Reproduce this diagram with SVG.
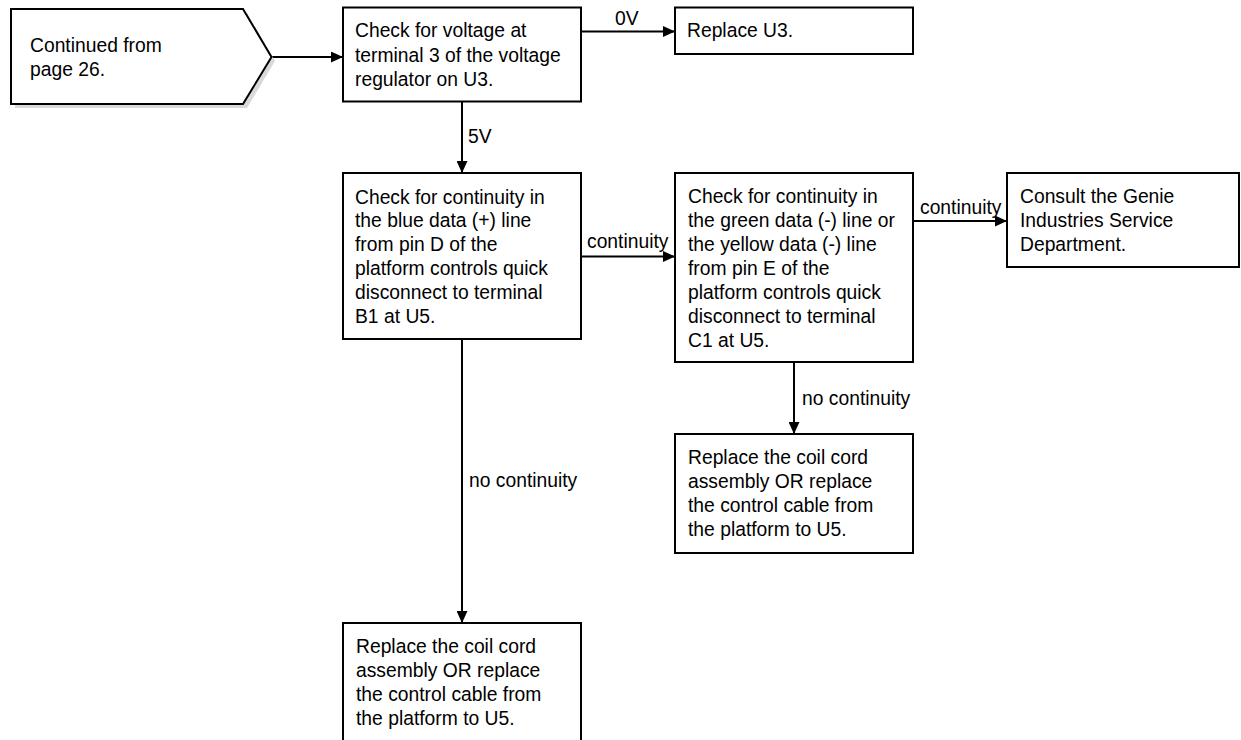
<svg xmlns="http://www.w3.org/2000/svg" width="1241" height="740" viewBox="0 0 1241 740">
<style>
.box{fill:#fff;stroke:#000;stroke-width:2}
.shadow{fill:#d9d9d9;stroke:none}
.t{font-family:"Liberation Sans",Arial,sans-serif;font-size:19.3px;fill:#000}
.c{stroke:#000;stroke-width:2;fill:none;marker-end:url(#arrow)}
</style>
<defs>
<marker id="arrow" markerUnits="userSpaceOnUse" markerWidth="12" markerHeight="11" refX="12" refY="5.5" orient="auto">
<path d="M0,0 L12,5.5 L0,11 z" fill="#000"/>
</marker>
</defs>
<rect width="1241" height="740" fill="#fff"/>
<g id="connectors">
<line class="c" x1="272" y1="57" x2="343" y2="57"/>
<line class="c" x1="581" y1="31.5" x2="675" y2="31.5"/>
<text class="t" x="615" y="25">0V</text>
<line class="c" x1="462" y1="101.5" x2="462" y2="173"/>
<text class="t" x="468" y="143">5V</text>
<line class="c" x1="581" y1="256.5" x2="675" y2="256.5"/>
<text class="t" x="587" y="248">continuity</text>
<line class="c" x1="913" y1="221" x2="1007" y2="221"/>
<text class="t" x="920" y="214">continuity</text>
<line class="c" x1="794" y1="362" x2="794" y2="434"/>
<text class="t" x="802" y="405">no continuity</text>
<line class="c" x1="462" y1="339" x2="462" y2="623"/>
<text class="t" x="469" y="487">no continuity</text>
</g>
<g id="start">
<polygon class="shadow" points="15,13 247,13 275,61 247,108 15,108"/>
<polygon class="box" points="11,9 243,9 271.5,57 243,104 11,104"/>
<text class="t" x="30" y="52"><tspan x="30">Continued from</tspan><tspan x="30" dy="24">page 26.</tspan></text>
</g>
<g id="check-voltage">
<rect class="box" x="343" y="7.5" width="238" height="94"/>
<text class="t" y="37.3"><tspan x="355">Check for voltage at</tspan><tspan x="355" dy="24.3">terminal 3 of the voltage</tspan><tspan x="355" dy="24.3">regulator on U3.</tspan></text>
</g>
<g id="replace-u3">
<rect class="box" x="675" y="7.5" width="238" height="46.5"/>
<text class="t" x="687" y="37.3">Replace U3.</text>
</g>
<g id="check-blue">
<rect class="box" x="343" y="173" width="238" height="166"/>
<text class="t" y="203.5"><tspan x="355">Check for continuity in</tspan><tspan x="355" dy="23.8">the blue data (+) line</tspan><tspan x="355" dy="23.8">from pin D of the</tspan><tspan x="355" dy="23.8">platform controls quick</tspan><tspan x="355" dy="23.8">disconnect to terminal</tspan><tspan x="355" dy="23.8">B1 at U5.</tspan></text>
</g>
<g id="check-green">
<rect class="box" x="675" y="173" width="238" height="189"/>
<text class="t" y="203.3"><tspan x="688">Check for continuity in</tspan><tspan x="688" dy="23.9">the green data (-) line or</tspan><tspan x="688" dy="23.9">the yellow data (-) line</tspan><tspan x="688" dy="23.9">from pin E of the</tspan><tspan x="688" dy="23.9">platform controls quick</tspan><tspan x="688" dy="23.9">disconnect to terminal</tspan><tspan x="688" dy="23.9">C1 at U5.</tspan></text>
</g>
<g id="consult">
<rect class="box" x="1007" y="173" width="232" height="94"/>
<text class="t" y="203"><tspan x="1020">Consult the Genie</tspan><tspan x="1020" dy="24">Industries Service</tspan><tspan x="1020" dy="24">Department.</tspan></text>
</g>
<g id="replace-cord-right">
<rect class="box" x="675" y="434" width="238" height="119"/>
<text class="t" y="464"><tspan x="688">Replace the coil cord</tspan><tspan x="688" dy="24">assembly OR replace</tspan><tspan x="688" dy="24">the control cable from</tspan><tspan x="688" dy="24">the platform to U5.</tspan></text>
</g>
<g id="replace-cord-left">
<rect class="box" x="343" y="623" width="238" height="140"/>
<text class="t" y="653.3"><tspan x="356">Replace the coil cord</tspan><tspan x="356" dy="24">assembly OR replace</tspan><tspan x="356" dy="24">the control cable from</tspan><tspan x="356" dy="24">the platform to U5.</tspan></text>
</g>
</svg>
